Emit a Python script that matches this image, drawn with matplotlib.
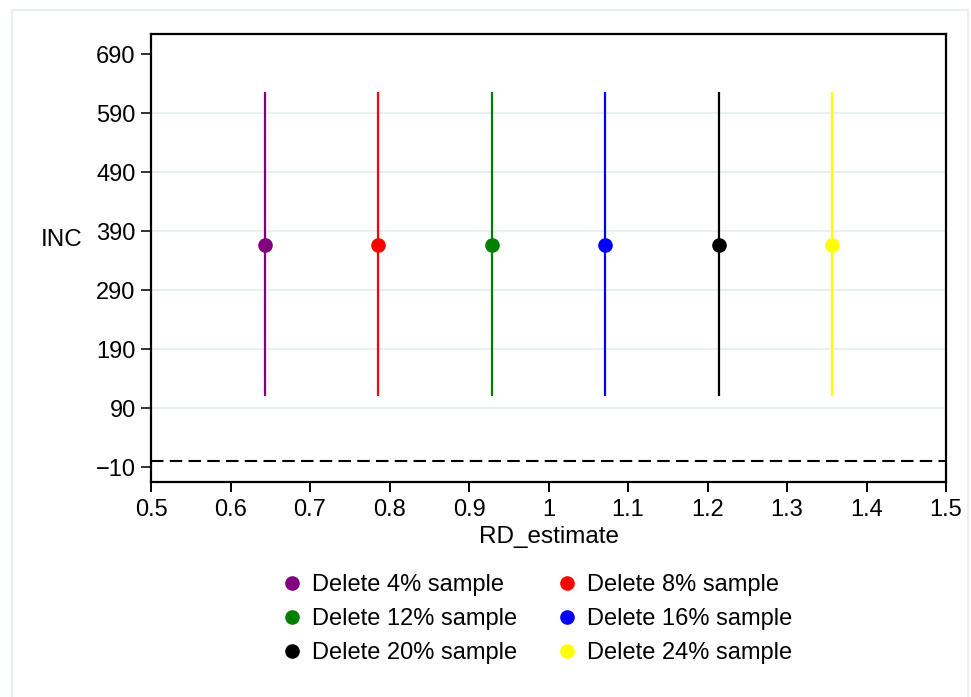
import matplotlib
matplotlib.use("Agg")
import matplotlib.pyplot as plt
from matplotlib.lines import Line2D
from matplotlib.patches import Rectangle

plt.rcParams['font.family'] = ['Liberation Sans', 'DejaVu Sans']

labels = ["Delete 4% sample", "Delete 8% sample", "Delete 12% sample",
          "Delete 16% sample", "Delete 20% sample", "Delete 24% sample"]
colors = ["purple", "red", "green", "blue", "black", "yellow"]
rd_estimate = [0.643, 0.786, 0.929, 1.071, 1.214, 1.357]
inc_center = [367, 367, 367, 367, 367, 367]
inc_low = [110, 110, 110, 110, 110, 110]
inc_high = [625, 625, 625, 625, 625, 625]
ref_line = 0
yticks = [-10, 90, 190, 290, 390, 490, 590, 690]
xticks = [0.5, 0.6, 0.7, 0.8, 0.9, 1.0, 1.1, 1.2, 1.3, 1.4, 1.5]
xtick_labels = ["0.5", "0.6", "0.7", "0.8", "0.9", "1", "1.1", "1.2", "1.3", "1.4", "1.5"]

fig = plt.figure(figsize=(9.71, 6.97), dpi=100)
fig.patches.append(Rectangle((12/971, -0.05), (968-12)/971, 1 - 10/697 + 0.05,
                             transform=fig.transFigure, fill=False,
                             edgecolor="#e9eff1", linewidth=1.5, zorder=0))
ax = fig.add_axes([151/971, 1 - 482/697, (946-151)/971, (482-34)/697])

for gy in yticks[1:-1]:
    ax.axhline(gy, color="#e6eff1", linewidth=1.3, zorder=0)

ax.axhline(ref_line, color="black", linewidth=1.5, dashes=(6, 3), zorder=1)

for x, c, lo, hi, lab, col in zip(rd_estimate, inc_center, inc_low, inc_high, labels, colors):
    ax.vlines(x, lo, hi, color=col, linewidth=1.6, zorder=2)
    ax.plot([x], [c], 'o', color=col, markersize=9.5, zorder=3, label=lab)

ax.set_xlim(0.5, 1.5)
ax.set_ylim(-35, 724)
ax.set_xticks(xticks)
ax.set_xticklabels(xtick_labels)
ax.set_yticks(yticks)
ax.set_yticklabels([("\u2212" + str(-v)) if v < 0 else str(v) for v in yticks])
ax.tick_params(axis='both', labelsize=17, length=7, width=1.4, direction='out',
               colors='#333333', labelcolor='black', pad=4)
ax.tick_params(axis='x', colors='black', pad=5)
for s in ax.spines.values():
    s.set_linewidth(1.6)
    s.set_color("black")

ax.set_xlabel("RD_estimate", fontsize=17.5, labelpad=4)
ax.set_ylabel("INC", fontsize=17.5, rotation=0, labelpad=0)
ax.yaxis.set_label_coords(-0.112, 0.515)

# legend fills row by row: reorder for matplotlib's column-major layout
order = [0, 2, 4, 1, 3, 5]
handles = [Line2D([], [], linestyle='none', marker='o', color=colors[i], markersize=9.5) for i in order]
fig.legend(handles, [labels[i] for i in order], loc='center',
           bbox_to_anchor=(536/971, 1 - 619/697),
           ncol=2, frameon=False, fontsize=17, handletextpad=0.35, columnspacing=1.6,
           labelspacing=0.5, handlelength=1.0)

fig.savefig("out.png", dpi=100, facecolor="white")
